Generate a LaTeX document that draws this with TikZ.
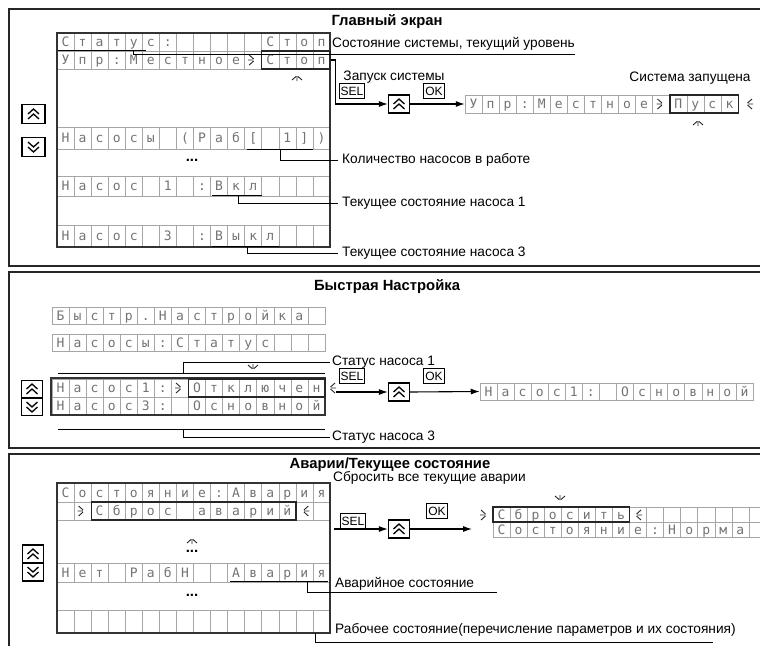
\documentclass[tikz,border=0pt]{standalone}
\usepackage{fontspec}
\setmainfont{Liberation Sans}
\newfontfamily\lcdfont{DejaVu Sans Mono}
\usetikzlibrary{arrows.meta}
\newcommand\lcdrow[5]{\foreach \lc [count=\li] in {#5}{\node[lcdcell, minimum height=#4pt] (#1-\li) at ({#2+(\li-0.5)*17.06},{#3+#4/2}) {\lc};}}
\tikzset{
 panel/.style={draw=black!85, line width=1.6pt},
 lcdcell/.style={draw=black!35, line width=0.5pt, inner sep=0pt, minimum width=17.06pt, text height=9.5pt, text depth=0pt, text=black!55, font=\lcdfont\fontsize{13}{13}\selectfont},
 lcdframe/.style={draw=black!80, line width=1.1pt},
 hl/.style={draw=black!85, line width=1.3pt, inner sep=0pt},
 lbl/.style={anchor=west, inner sep=0pt, font=\fontsize{13.7}{15}\selectfont},
 ttl/.style={inner sep=0pt, font=\bfseries\fontsize{14.8}{16}\selectfont},
 lead/.style={draw=black, line width=1pt},
 arr/.style={draw=black, line width=1.1pt, -{Latex[length=9pt,width=6pt]}},
 key/.style={draw=black, line width=1pt, inner xsep=1.5pt, inner ysep=1pt, font=\fontsize{12}{13}\selectfont, minimum height=15pt, minimum width=21pt},
 btn/.style={draw=black, line width=1.3pt, minimum width=21pt, minimum height=18pt, inner sep=0pt},
 blk/.style={draw=black!85, line width=0.9pt},
 dots/.style={font=\bfseries\fontsize{15}{15}\selectfont, inner sep=0pt},
 upchev/.pic={\draw[line width=1.3pt] (-5.5,0)--(0,-5)--(5.5,0) (-5.5,5)--(0,0)--(5.5,5);},
 dnchev/.pic={\draw[line width=1.3pt] (-5.5,0)--(0,5)--(5.5,0) (-5.5,-5)--(0,0)--(5.5,-5);},
 blinkR/.pic={\draw[blk] (-4,-5)--(0.5,-1) (-4,5)--(0.5,1) (-5,0)--(0,0);},
 blinkL/.pic={\draw[blk] (4,-5)--(-0.5,-1) (4,5)--(-0.5,1) (5,0)--(0,0);},
 blinkU/.pic={\draw[blk] (-5,4)--(-1,0.5) (5,4)--(1,0.5) (0,5)--(0,0);},
 blinkD/.pic={\draw[blk] (-5,-4)--(-1,-0.5) (5,-4)--(1,-0.5) (0,-5)--(0,0);},
}
\begin{document}
\begin{tikzpicture}[x=1pt,y=-1pt]
\useasboundingbox (0,0) rectangle (760,645);
% panels
\draw[panel] (9,9) rectangle (790,266);
\draw[panel] (9,272) rectangle (790,448);
\draw[panel] (9,454) rectangle (790,670);

% ================= panel 1
\node[ttl] (t1) at (387,22) {Главный экран};
\lcdrow{a1}{57}{33}{18}{С,т,а,т,у,с,:,{},{},{},{},{},С,т,о,п}
\lcdrow{a2}{57}{51}{18}{У,п,р,:,М,е,с,т,н,о,е,{},С,т,о,п}
\lcdrow{a3}{57}{127}{22}{Н,а,с,о,с,ы,{},{(},Р,а,б,{[},{},1,{]},{)}}
\lcdrow{a4}{57}{176}{20}{Н,а,с,о,с,{},1,{},:,В,к,л,{},{},{},{}}
\lcdrow{a5}{57}{225}{22}{Н,а,с,о,с,{},3,{},:,В,ы,к,л,{},{},{}}
\draw[lcdframe] (57,33) rectangle (330,247);
\node[hl, minimum width=68.24pt, minimum height=18pt] (bx1) at (295.9,60) {};
\pic at (253.2,60) {blinkR};
\pic at (297,76) {blinkU};
\node[dots] (dt1) at (192,160) {...};
% leaders
\coordinate (u1a) at (58,50.5); \coordinate (u1b) at (146,50.5);
\coordinate (u1c) at (133,50.5); \coordinate (u1d) at (575,54);
\draw[lead] (u1a) -- (u1b);
\draw[lead] (u1c) |- (u1d);
\node[lbl] (l1) at (332,44) {Состояние системы, текущий уровень};
\coordinate (u2a) at (247,149.5); \coordinate (u2b) at (313,149.5); \coordinate (u2c) at (280,149.5);
\draw[lead] (u2a) -- (u2b);
\node[lbl] (l2) at (342,160) {Количество насосов в работе};
\draw[lead] (u2c) |- ([xshift=-4pt]l2.west);
\coordinate (u3a) at (212,195); \coordinate (u3b) at (262,195); \coordinate (u3c) at (238,195);
\draw[lead] (u3a) -- (u3b);
\node[lbl] (l3) at (342,203) {Текущее состояние насоса 1};
\draw[lead] (u3c) |- ([xshift=-4pt]l3.west);
\coordinate (u4a) at (212,246); \coordinate (u4b) at (279,246); \coordinate (u4c) at (247,246);
\draw[lead] (u4a) -- (u4b);
\node[lbl] (l4) at (342,253) {Текущее состояние насоса 3};
\draw[lead] (u4c) |- ([xshift=-4pt]l4.west);
% buttons
\node[btn, minimum width=23pt, minimum height=19pt] (bu1) at (33.5,114) {}; \pic at (bu1) {upchev};
\node[btn, minimum width=23pt, minimum height=19pt] (bd1) at (33.5,147) {}; \pic at (bd1) {dnchev};
% sequence
\node[lbl, anchor=center] (zap) at (394,77) {Запуск системы};
\node[key] (sel1) at (352,91) {SEL};
\node[key] (ok1) at (434,91) {OK};
\node[btn] (kb1) at (399,104) {}; \pic at (kb1) {upchev};
\draw[arr] (bx1.east) -- ++(5,0) |- (kb1.west);
\lcdrow{b1}{465}{95}{18}{У,п,р,:,М,е,с,т,н,о,е,{},П,у,с,к}
\draw[arr] (kb1.east) -- (b1-1.west);
\node[hl, minimum width=68.24pt, minimum height=18pt] (bx2) at (704.1,104) {};
\pic at (661.5,104) {blinkR};
\pic at (748,104) {blinkL};
\pic at (698,121) {blinkU};
\node[lbl, anchor=center] (zap2) at (690,78) {Система запущена};

% ================= panel 2
\node[ttl] (t2) at (387,287) {Быстрая Настройка};
\lcdrow{c1}{52}{307}{17}{Б,ы,с,т,р,.,Н,а,с,т,р,о,й,к,а,{}}
\lcdrow{c2}{52}{334}{17}{Н,а,с,о,с,ы,:,С,т,а,т,у,с,{},{},{}}
\lcdrow{c3}{52}{379}{18}{Н,а,с,о,с,1,:,{},О,т,к,л,ю,ч,е,н}
\lcdrow{c4}{52}{397}{18}{Н,а,с,о,с,3,:,{},О,с,н,о,в,н,о,й}
\draw[lcdframe] (51,378) rectangle (325,415);
\node[hl, minimum width=136.5pt, minimum height=18pt] (bx3) at (256.7,388) {};
\pic at (180,388) {blinkR};
\pic at (331,388) {blinkL};
\pic at (253,369) {blinkD};
\coordinate (v1a) at (58,373); \coordinate (v1b) at (325,373); \coordinate (v1c) at (183,373);
\draw[lead] (v1a) -- (v1b);
\node[lbl] (l5) at (332,362) {Статус насоса 1};
\draw[lead] (v1c) |- ([xshift=-2pt]l5.west);
\coordinate (v2a) at (58,429); \coordinate (v2b) at (325,429); \coordinate (v2c) at (183,429);
\draw[lead] (v2a) -- (v2b);
\node[lbl] (l6) at (332,437) {Статус насоса 3};
\draw[lead] (v2c) |- ([xshift=-2pt]l6.west);
\node[btn, minimum height=17pt] (bu2) at (32,389) {}; \pic at (bu2) {upchev};
\node[btn, minimum height=17pt] (bd2) at (32,407) {}; \pic at (bd2) {dnchev};
\node[key] (sel2) at (352,376) {SEL};
\node[key] (ok2) at (434,376) {OK};
\node[btn] (kb2) at (399,392) {}; \pic at (kb2) {upchev};
\coordinate (s2) at (336,392);
\draw[arr] (s2) -- (kb2.west);
\lcdrow{c5}{480}{383}{17}{Н,а,с,о,с,1,:,{},О,с,н,о,в,н,о,й}
\draw[arr] (kb2.east) -- (c5-1.west);

% ================= panel 3
\node[ttl] (t3) at (390,465) {Аварии/Текущее состояние};
\node[lbl] (l7) at (333,478) {Сбросить все текущие аварии};
\lcdrow{e1}{57}{483}{19}{С,о,с,т,о,я,н,и,е,:,А,в,а,р,и,я}
\lcdrow{e2}{57}{502}{18}{{},{},С,б,р,о,с,{},а,в,а,р,и,й,{},{}}
\lcdrow{e3}{57}{563}{19}{Н,е,т,{},Р,а,б,Н,{},{},А,в,а,р,и,я}
\lcdrow{e4}{57}{610}{23}{{},{},{},{},{},{},{},{},{},{},{},{},{},{},{},{}}
\draw[lcdframe] (57,483) rectangle (330,633);
\node[hl, minimum width=204.7pt, minimum height=18pt] (bx4) at (193.5,511) {};
\pic at (82.6,511) {blinkR};
\pic at (304.4,511) {blinkL};
\pic at (192,539) {blinkU};
\node[dots] (dt2) at (192,551) {...};
\node[dots] (dt3) at (192,595) {...};
\coordinate (w1a) at (230,581.5); \coordinate (w1b) at (328,581.5); \coordinate (w1c) at (307,581.5); \coordinate (w1d) at (497,592);
\draw[lead] (w1a) -- (w1b);
\draw[lead] (w1c) |- (w1d);
\node[lbl] (l8) at (335,584) {Аварийное состояние};
\coordinate (w2c) at (315,633); \coordinate (w2d) at (713,642);
\draw[lead] (w2c) |- (w2d);
\node[lbl] (l9) at (335,630) {Рабочее состояние(перечисление параметров и их состояния)};
\node[btn] (bu3) at (33,554) {}; \pic at (bu3) {upchev};
\node[btn] (bd3) at (33,572) {}; \pic at (bd3) {dnchev};
\node[key] (sel3) at (353,521) {SEL};
\node[key] (ok3) at (437,511) {OK};
\node[btn] (kb3) at (399,529) {}; \pic at (kb3) {upchev};
\coordinate (s3) at (334,529);
\coordinate (e5s) at (472,529);
\draw[arr] (s3) -- (kb3.west);
\draw[arr] (kb3.east) -- (e5s);
\pic at (485,515) {blinkR};
\lcdrow{e5}{493}{507}{15}{С,б,р,о,с,и,т,ь,{},{},{},{},{},{},{},{}}
\lcdrow{e6}{493}{522}{15}{С,о,с,т,о,я,н,и,е,:,Н,о,р,м,а,{}}
\node[hl, minimum width=136.5pt, minimum height=15pt] (bx5) at (561.2,514.5) {};
\pic at (637,515) {blinkL};
\pic at (560,500) {blinkD};
\end{tikzpicture}
\end{document}
